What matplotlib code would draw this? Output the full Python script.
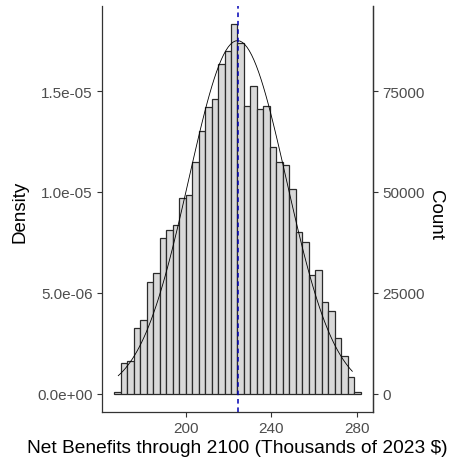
import numpy as np
import matplotlib
matplotlib.use("Agg")
import matplotlib.pyplot as plt

plt.rcParams['font.family'] = ['Liberation Sans', 'DejaVu Sans']

# histogram: 38 bins, density per dollar, x in thousands of 2023 $
bin_start = 166.65
bin_width = 3.028
density = [1.0e-7, 1.52e-6, 1.62e-6, 3.25e-6, 3.65e-6, 5.51e-6, 5.96e-6, 7.72e-6,
           8.12e-6, 8.35e-6, 9.70e-6, 9.82e-6, 1.147e-5, 1.30e-5, 1.42e-5, 1.46e-5,
           1.634e-5, 1.70e-5, 1.83e-5, 1.74e-5, 1.424e-5, 1.526e-5, 1.41e-5, 1.424e-5,
           1.22e-5, 1.147e-5, 1.135e-5, 1.016e-5, 8.02e-6, 7.52e-6, 5.9e-6, 6.12e-6,
           4.55e-6, 4.09e-6, 2.74e-6, 1.87e-6, 8.3e-7, 8e-8]

# fitted normal (thousands) and data range for the curve
mean_nb = 224.2
sd_nb = 22.8
curve_min, curve_max = 168.5, 277.8

count_scale = 5e9   # count per unit density on the right axis

x_ticks = [200, 240, 280]
y_ticks = [0, 5e-6, 1e-5, 1.5e-5]
y_labels = ["0.0e+00", "5.0e-06", "1.0e-05", "1.5e-05"]
count_ticks = [0, 25000, 50000, 75000]

fig = plt.figure(figsize=(4.49, 4.6), dpi=100)
ax = fig.add_axes([0.2272, 0.1022, 0.6035, 0.8826])

lefts = bin_start + bin_width * np.arange(len(density))
ax.bar(lefts, density, width=bin_width, align='edge', color='#D9D9D9',
       edgecolor='#2B2B2B', linewidth=0.9)

xs = np.linspace(curve_min, curve_max, 101)
pdf = np.exp(-0.5 * ((xs - mean_nb) / sd_nb) ** 2) / (sd_nb * 1000 * np.sqrt(2 * np.pi))
ax.plot(xs, pdf, color='black', linewidth=0.6)

ax.axvline(mean_nb, color='#0000B4', linestyle=(0, (3, 2.5)), linewidth=1.1)

x_lo = bin_start
x_hi = bin_start + bin_width * len(density)
pad = 0.05 * (x_hi - x_lo)
ax.set_xlim(x_lo - pad, x_hi + pad)
ymax = max(density)
ax.set_ylim(-0.05 * ymax, 1.05 * ymax)

ax.set_xticks(x_ticks)
ax.set_yticks(y_ticks)
ax.set_yticklabels(y_labels)
ax.spines['top'].set_visible(False)
for s in ['left', 'bottom', 'right']:
    ax.spines[s].set_color('#333333')
    ax.spines[s].set_linewidth(0.9)
ax.tick_params(colors='#333333', labelcolor='#4D4D4D', labelsize=11,
               length=3.5, width=0.8, pad=3)

sec = ax.secondary_yaxis('right', functions=(lambda d: d * count_scale,
                                              lambda c: c / count_scale))
sec.set_yticks(count_ticks)
sec.spines['right'].set_color('#333333')
sec.spines['right'].set_linewidth(0.9)
sec.tick_params(colors='#333333', labelcolor='#4D4D4D', labelsize=11,
                length=3.5, width=0.8, pad=3)

fig.text(237.5 / 449, 1 - 449 / 460, "Net Benefits through 2100 (Thousands of 2023 $)",
         fontsize=13.8, ha='center', va='center')
fig.text(20.5 / 449, 1 - 212 / 460, "Density", fontsize=13.5, rotation=90,
         ha='center', va='center')
fig.text(435 / 449, 1 - 215 / 460, "Count", fontsize=13.5, rotation=270,
         ha='center', va='center')

fig.savefig("out.png", dpi=100)
